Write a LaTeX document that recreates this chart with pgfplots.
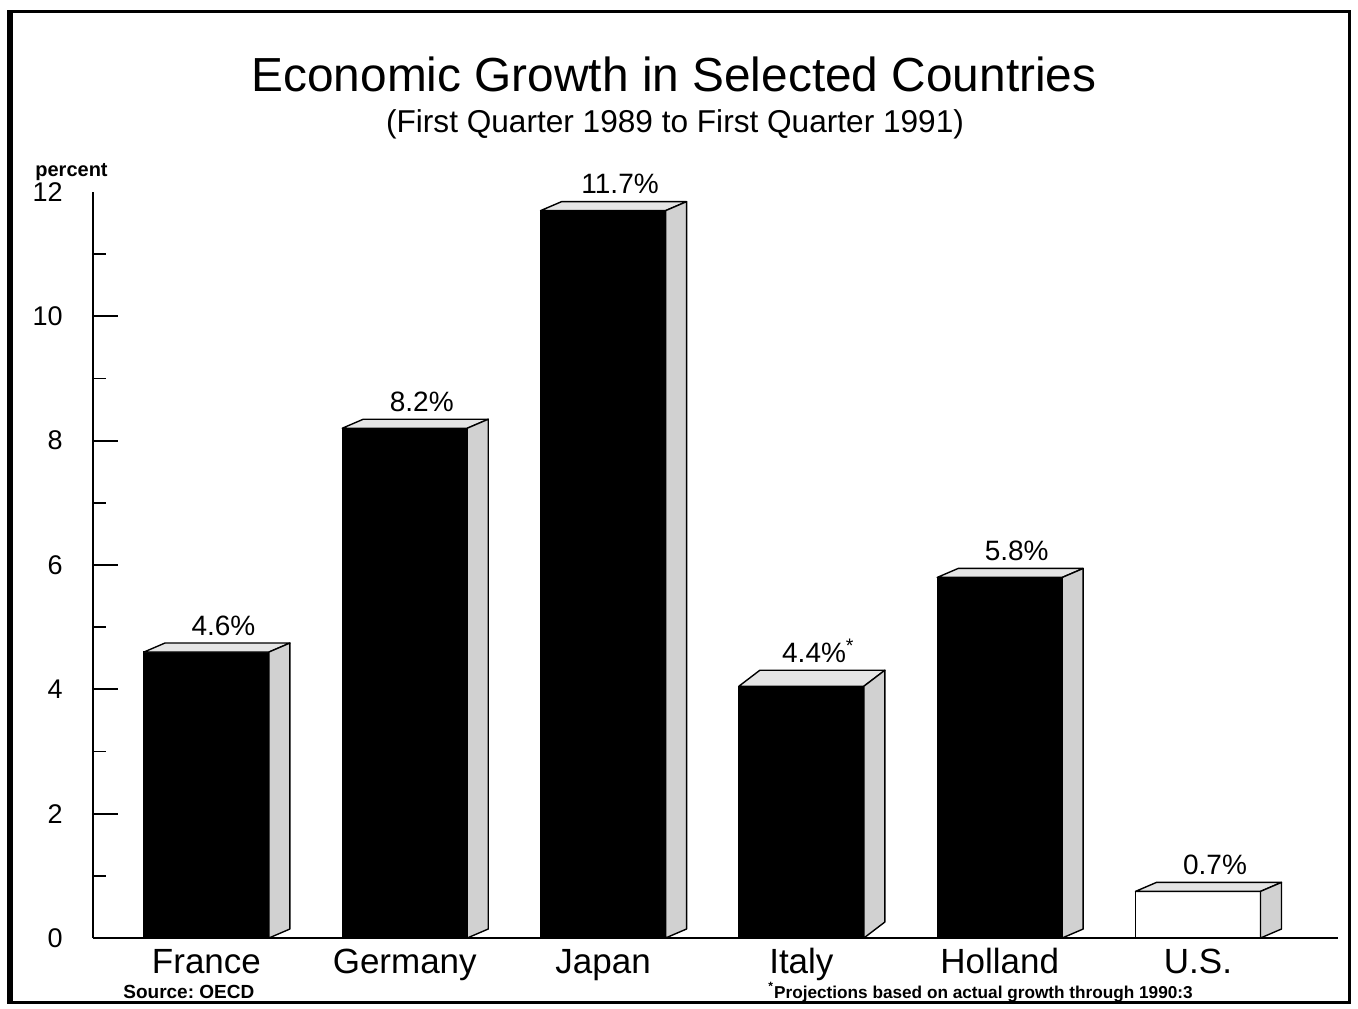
\documentclass[border=0pt]{standalone}
\usepackage{fontspec}
\setmainfont{Liberation Sans}
\usepackage{pgfplots}
\pgfplotsset{compat=1.18}
\usepackage{pgfplotstable}
\frenchspacing

\definecolor{topface}{gray}{0.9}
\definecolor{sideface}{gray}{0.82}

% bar position, drawn height, height of the label, label
\pgfplotstableread{
x v ly lab
0 4.6 4.86 {4.6\%}
1 8.2 8.46 {8.2\%}
2 11.7 11.96 {11.7\%}
3 4.05 4.42 {4.4\%\textsuperscript{*}}
4 5.8 6.06 {5.8\%}
5 0.75 1.01 {0.7\%}
}\growth

\newlength\yu
\setlength\yu{31.0833pt} % 373pt / 12
\def\hw{31.25pt}
\def\dx{10.5pt}
\pgfdeclareplotmark{nothing}{}

\pgfplotsset{
  box faces/.style={only marks, scatter, mark=nothing,
    visualization depends on={rawy \as \val},
    scatter/@pre marker code/.code={%
      \scope
      \pgfkeys{/pgf/fpu=false}%
      \filldraw[fill=topface, draw=black, line width=0.7pt, line join=round]
        (-\hw,0pt) -- (-\hw+\dx,#1) -- (\hw+\dx,#1) -- (\hw,0pt) -- cycle;
      \filldraw[fill=sideface, draw=black, line width=0.7pt, line join=round]
        (\hw,0pt) -- (\hw+\dx,#1) -- (\hw+\dx,#1-\val*\yu) -- (\hw,-\val*\yu) -- cycle;
    },
    scatter/@post marker code/.code={\endscope}},
}

\begin{document}
\begin{tikzpicture}
\path (-46.5pt,-35pt) rectangle (632.5pt,469pt);
\begin{axis}[
  scale only axis, width=622.5pt, height=373pt,
  xmin=-0.572, xmax=5.706, ymin=0, ymax=12,
  axis x line*=bottom, axis y line*=left,
  axis line style={line width=1pt},
  /pgf/number format/assume math mode=true,
  xtick={0,...,5},
  xticklabels={France,Germany,Japan,Italy,Holland,U.S.},
  xtick style={draw=none},
  xticklabel style={font=\fontsize{17.5}{17.5}\selectfont, anchor=north, inner sep=0pt,
    text height=13pt, text depth=0pt, yshift=-4.5pt},
  ytick={0,2,...,10}, minor ytick={1,3,...,11},
  extra y ticks={12}, extra y tick style={major tick length=0pt},
  tick align=inside,
  major tick length=12.5pt, minor tick length=6.5pt,
  every tick/.style={line width=0.9pt, black},
  yticklabel style={font=\fontsize{13.5}{13.5}\selectfont, anchor=east, inner sep=0pt, xshift=-15pt},
  clip=false,
]
% front faces
\addplot[ybar, bar width=0.63, bar shift=0pt, fill=black, draw=black, line width=0.7pt,
  restrict x to domain=-1:4.5] table[x=x, y=v] {\growth};
\addplot[ybar, bar width=0.63, bar shift=0pt, fill=white, draw=black, line width=0.8pt,
  restrict x to domain=4.5:6] table[x=x, y=v] {\growth};
% top and side faces (Italy is drawn with a deeper top)
\addplot[box faces=4.5pt, restrict x to domain=-1:2.5] table[x=x, y=v] {\growth};
\addplot[box faces=8pt, restrict x to domain=2.5:3.5] table[x=x, y=v] {\growth};
\addplot[box faces=4.5pt, restrict x to domain=3.5:6] table[x=x, y=v] {\growth};
% value labels
\addplot[only marks, mark=nothing, point meta=explicit symbolic,
  nodes near coords,
  every node near coord/.append style={anchor=south, inner sep=0pt, xshift=8.5pt,
    font=\fontsize{14}{14}\selectfont, text=black},
] table[x=x, y=ly, meta=lab] {\growth};
\end{axis}

\node[anchor=base, font=\fontsize{23.9}{23.9}\selectfont] at (290.5pt,423pt)
  {Economic Growth in Selected Countries};
\node[anchor=base, font=\fontsize{15.8}{15.8}\selectfont] at (291pt,402.5pt)
  {(First Quarter 1989 to First Quarter 1991)};
\node[anchor=base west, inner sep=0pt, font=\bfseries\fontsize{10}{10}\selectfont] at (-29pt,380.5pt) {percent};
\node[anchor=base west, inner sep=0pt, font=\bfseries\fontsize{9.5}{9.5}\selectfont] at (15pt,-30pt) {Source: OECD};
\node[anchor=base west, inner sep=0pt, font=\bfseries\fontsize{8.6}{8.6}\selectfont] at (337.5pt,-30pt)
  {\textsuperscript{*}Projections based on actual growth through 1990:3};

\draw[line width=1.5pt] (-41.5pt,-32pt) rectangle (628pt,463pt);
\draw[line width=3pt] (-41.5pt,-32.75pt) -- (-41.5pt,463.75pt);
\end{tikzpicture}
\end{document}
